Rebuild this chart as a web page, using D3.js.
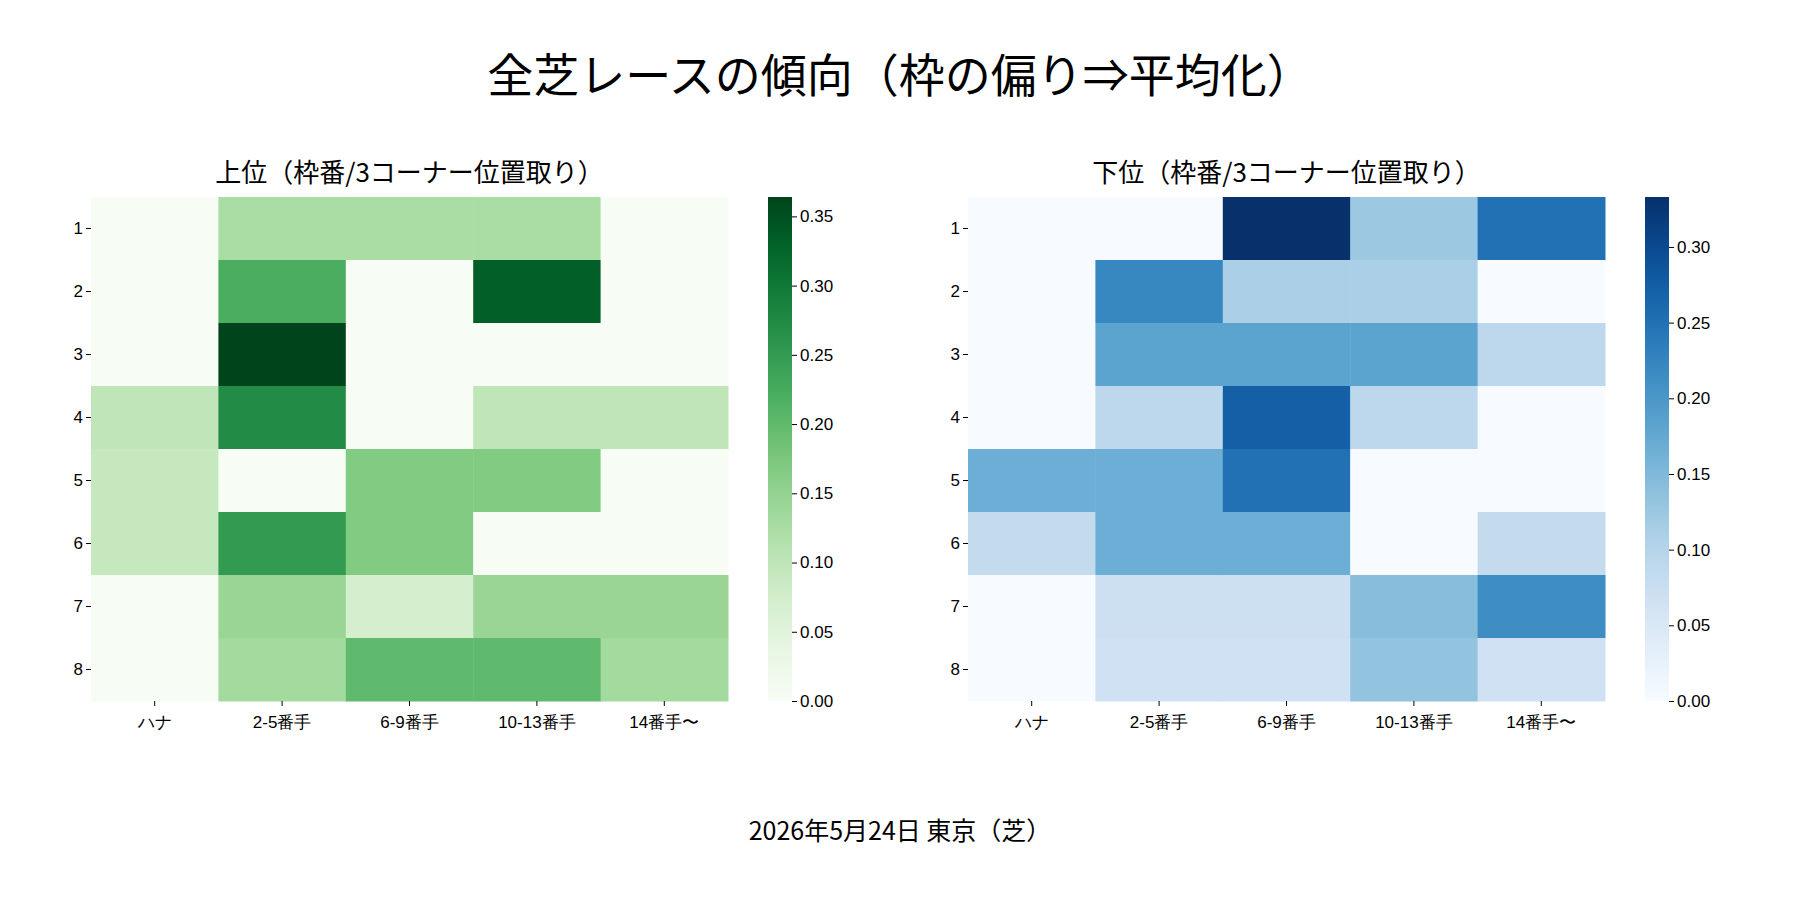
<!DOCTYPE html>
<html><head><meta charset="utf-8">
<script src="https://cdn.jsdelivr.net/npm/d3@7"></script>
<style>body{margin:0;background:#fff}svg{font-family:"Noto Sans CJK JP","Noto Sans",sans-serif}</style>
</head><body><svg id="c" width="1800" height="900"></svg>
<script>
const rows=["1","2","3","4","5","6","7","8"];
const cols=["ハナ","2-5番手","6-9番手","10-13番手","14番手〜"];
const topVals=[
[0,0.125,0.125,0.125,0],
[0,0.222,0,0.333,0],
[0,0.364,0,0,0],
[0.1,0.273,0,0.1,0.1],
[0.091,0,0.167,0.167,0],
[0.091,0.25,0.167,0,0],
[0,0.143,0.071,0.143,0.143],
[0,0.133,0.2,0.2,0.133]];
const botVals=[
[0,0,0.333,0.125,0.25],
[0,0.222,0.111,0.111,0],
[0,0.182,0.182,0.182,0.091],
[0,0.091,0.273,0.091,0],
[0.167,0.167,0.25,0,0],
[0.083,0.167,0.167,0,0.083],
[0,0.071,0.071,0.143,0.214],
[0,0.067,0.067,0.133,0.067]];
const topTicks=[0,0.05,0.10,0.15,0.20,0.25,0.30,0.35];
const botTicks=[0,0.05,0.10,0.15,0.20,0.25,0.30];
const svg=d3.select("#c");
svg.append("text").attr("x",900).attr("y",92).attr("text-anchor","middle").attr("font-size",46).text("全芝レースの傾向（枠の偏り⇒平均化）");
svg.append("text").attr("x",900).attr("y",840).attr("text-anchor","middle").attr("font-size",25).text("2026年5月24日 東京（芝）");
function heat(x0,x1,cb,vals,interp,ticks,title,id){
  const y0=197,y1=701;
  const g=svg.append("g");
  const max=d3.max(vals.flat());
  const color=d3.scaleSequential(interp).domain([0,max]);
  const x=d3.scaleBand().domain(cols).range([x0,x1]);
  const y=d3.scaleBand().domain(rows).range([y0,y1]);
  vals.forEach((r,i)=>r.forEach((v,j)=>{
    g.append("rect").attr("x",x(cols[j])).attr("y",y(rows[i])).attr("width",x.bandwidth()+0.5).attr("height",y.bandwidth()+0.5).attr("fill",color(v));
  }));
  g.append("text").attr("x",(x0+x1)/2).attr("y",182).attr("text-anchor","middle").attr("font-size",26).text(title);
  const ax=g.append("g").attr("transform",`translate(0,${y1})`).call(d3.axisBottom(x).tickSize(5));
  const ay=g.append("g").attr("transform",`translate(${x0},0)`).call(d3.axisLeft(y).tickSize(5));
  [ax,ay].forEach(a=>{a.select(".domain").remove();a.selectAll("text").attr("font-size",17).attr("font-family","inherit");});
  ax.selectAll("text").attr("dy","1.1em");
  const grad=svg.append("defs").append("linearGradient").attr("id",id).attr("x1",0).attr("y1",1).attr("x2",0).attr("y2",0);
  d3.range(0,1.001,0.05).forEach(t=>grad.append("stop").attr("offset",t).attr("stop-color",interp(t)));
  const cw=24;
  g.append("rect").attr("x",cb).attr("y",y0).attr("width",cw).attr("height",y1-y0).attr("fill",`url(#${id})`);
  const cs=d3.scaleLinear().domain([0,max]).range([y1,y0]);
  const ac=g.append("g").attr("transform",`translate(${cb+cw},0)`).call(d3.axisRight(cs).tickValues(ticks).tickFormat(d3.format(".2f")).tickSize(5));
  ac.select(".domain").remove();
  ac.selectAll("text").attr("font-size",17).attr("font-family","inherit");
}
heat(91,728,768,topVals,d3.interpolateGreens,topTicks,"上位（枠番/3コーナー位置取り）","gG");
heat(968,1605,1645,botVals,d3.interpolateBlues,botTicks,"下位（枠番/3コーナー位置取り）","gB");
</script></body></html>
